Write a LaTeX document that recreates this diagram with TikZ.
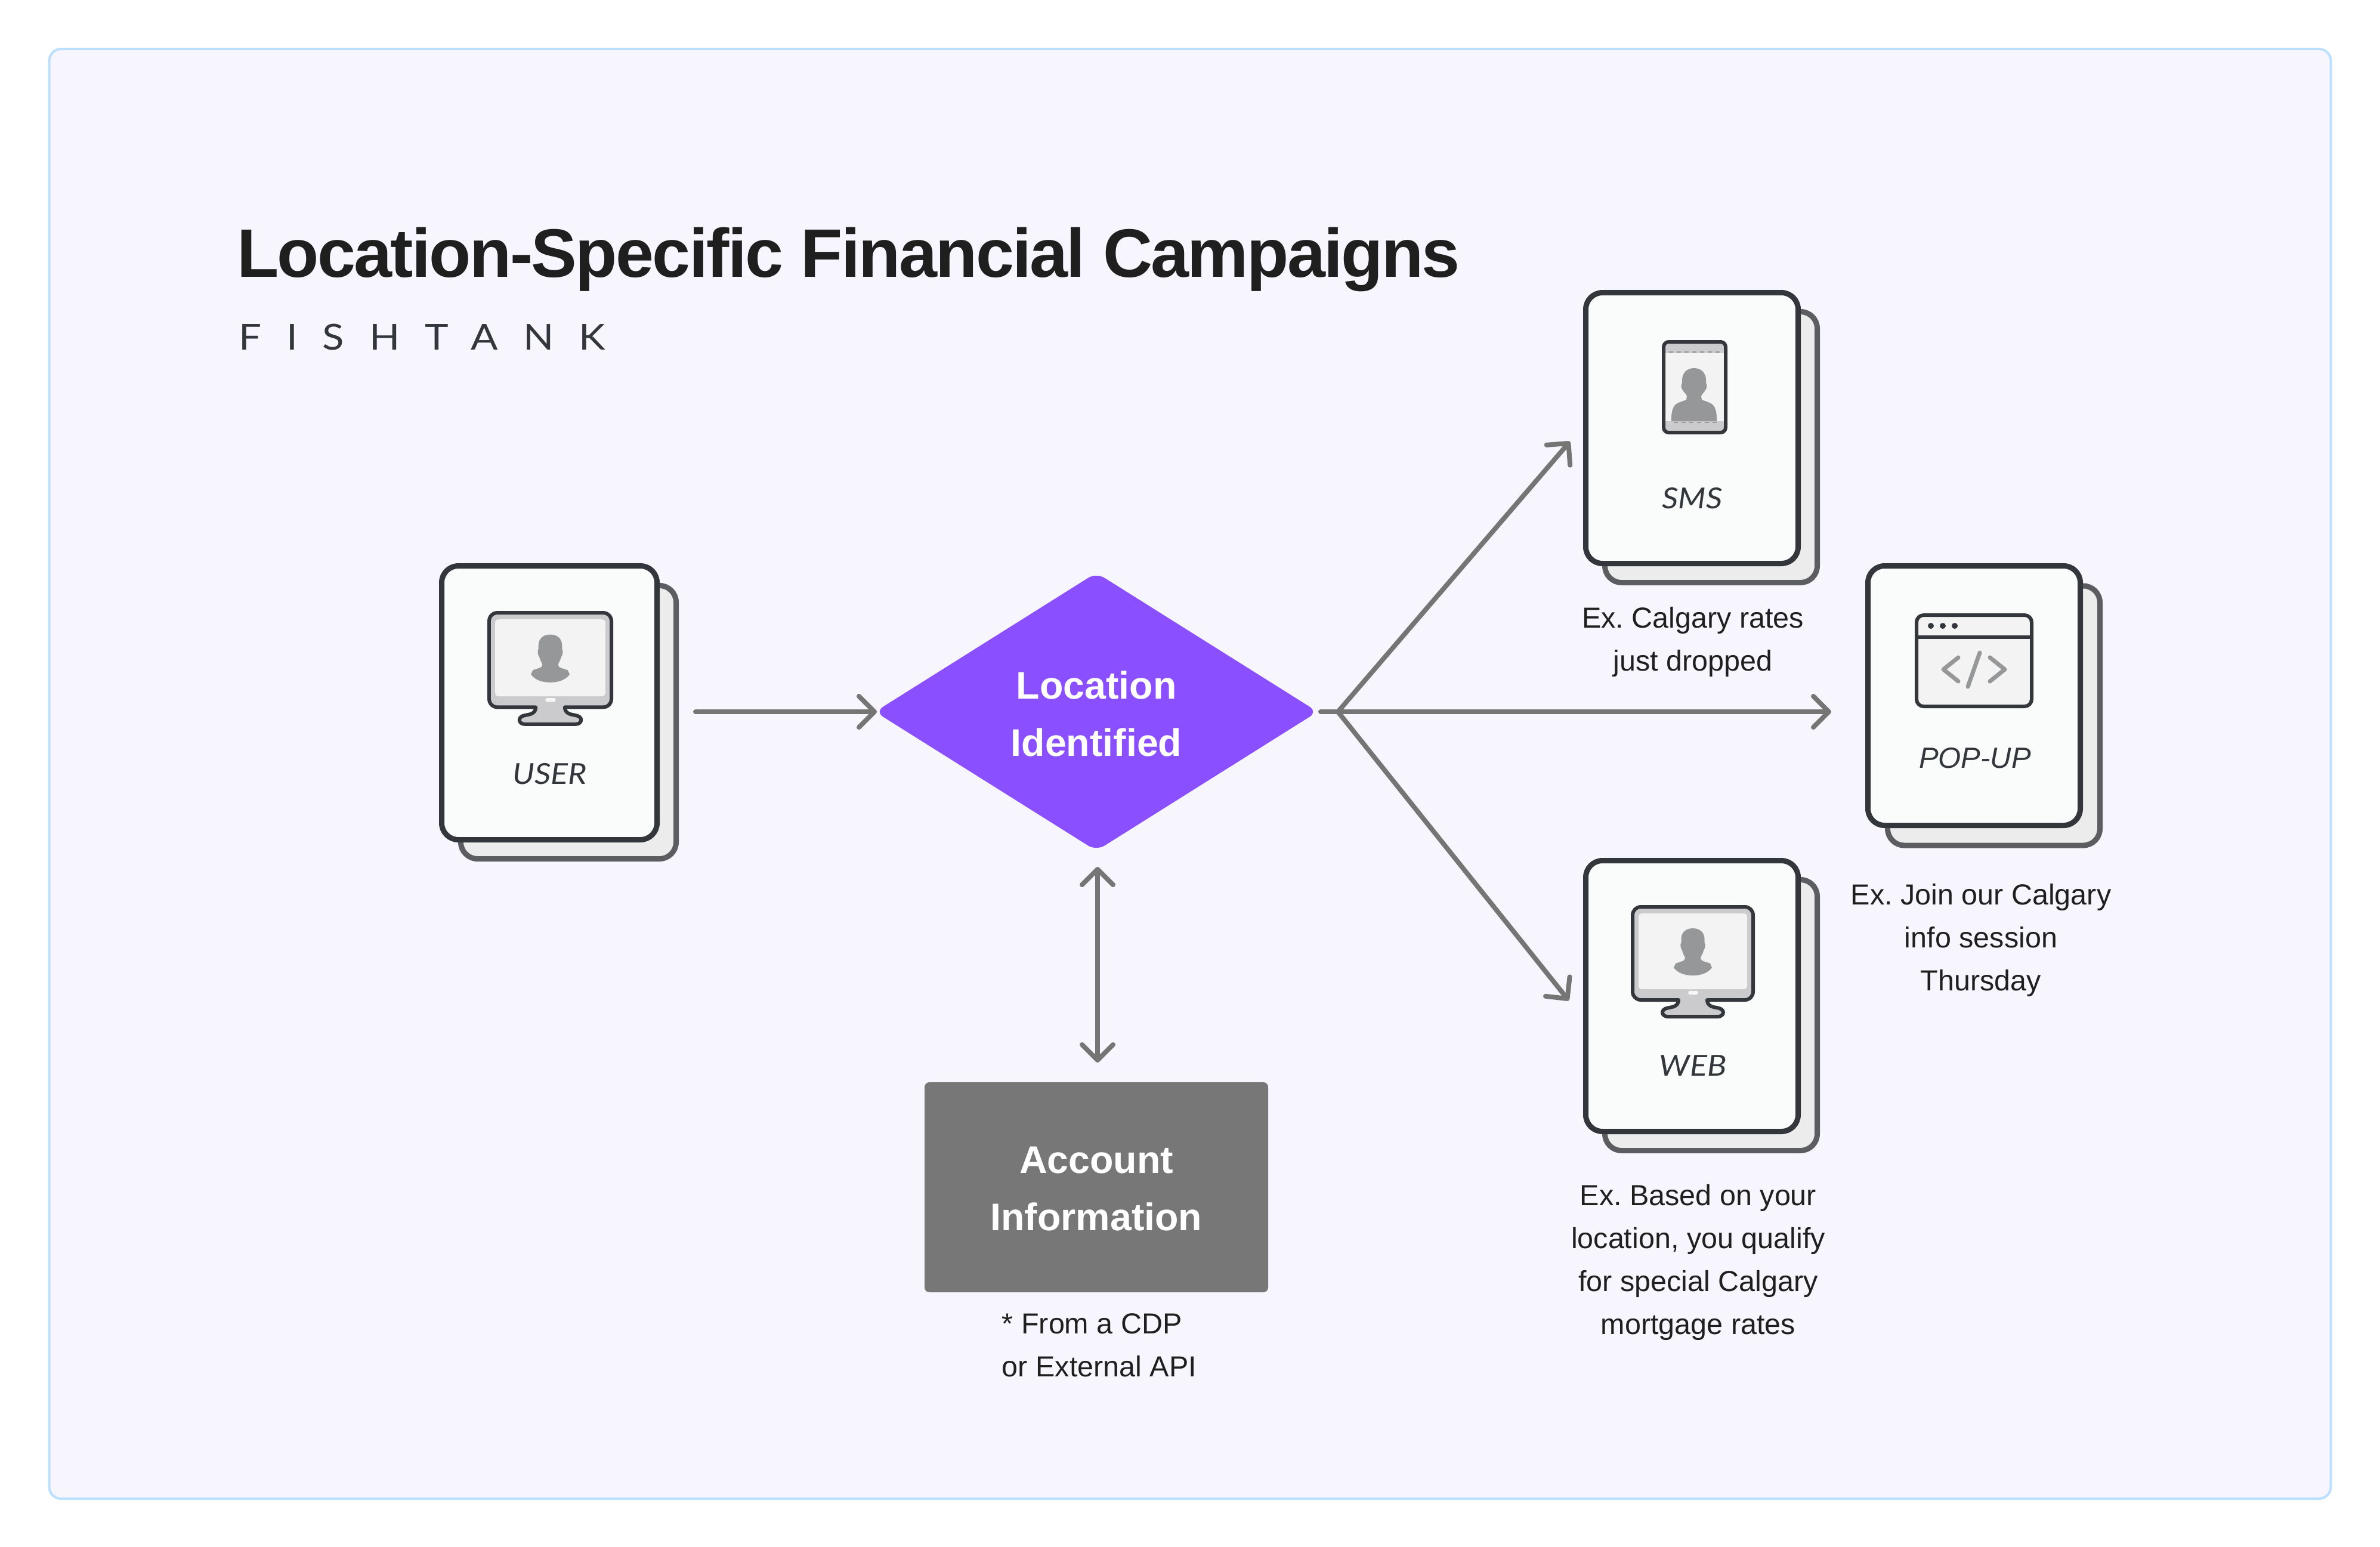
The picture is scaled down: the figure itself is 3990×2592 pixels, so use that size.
\documentclass[tikz,border=0pt]{standalone}
\usepackage{fontspec}
\setmainfont{Liberation Sans}
\newfontfamily\labelfont[FakeStretch=1.11]{Lato}
\newfontfamily\brandfont[FakeStretch=1.12,LetterSpace=70]{Lato}
\usetikzlibrary{arrows.meta,shapes.geometric}
\definecolor{panelfill}{HTML}{F7F5FE}
\definecolor{panelline}{HTML}{BBE0FF}
\definecolor{cardfill}{HTML}{FAFCFB}
\definecolor{cardline}{HTML}{33363A}
\definecolor{backfill}{HTML}{ECECEC}
\definecolor{backline}{HTML}{5C5D61}
\definecolor{iconband}{HTML}{CBCBCD}
\definecolor{iconscreen}{HTML}{F3F3F3}
\definecolor{iconglyph}{HTML}{969798}
\definecolor{linkgrey}{HTML}{757575}
\definecolor{boxgrey}{HTML}{777777}
\definecolor{violet}{HTML}{8A50FF}
\definecolor{inkdark}{HTML}{1F1F1F}
\newcommand{\dropline}[2]{\raisebox{#1}[0pt][0pt]{#2}}
\tikzset{
  cardsize/.style 2 args={minimum width=#1*0.2pt,minimum height=#2*0.2pt},
  card/.style={draw=cardline,fill=cardfill,line width=1.8pt,rounded corners=5.6pt,outer sep=0pt,inner sep=0pt},
  backcard/.style={draw=backline,fill=backfill,line width=1.8pt,rounded corners=5.6pt,outer sep=0pt,inner sep=0pt},
  link/.style={draw=linkgrey,line width=1.6pt,line cap=round},
  tip/.style={-{Straight Barb[round,length=5.2pt,width=10.4pt,line width=1.6pt]}},
  twotips/.style={{Straight Barb[round,length=5.2pt,width=10.4pt,line width=1.6pt]}-{Straight Barb[round,length=5.2pt,width=10.4pt,line width=1.6pt]}},
  cardlabel/.style={anchor=base,inner sep=0pt,text=cardline,font=\labelfont\itshape\fontsize{9.7}{12}\selectfont},
  caption/.style={inner sep=0pt,text=inkdark,align=center,font=\frenchspacing\fontsize{9.7}{14.4}\selectfont},
  whitetext/.style={text=white,align=center,inner sep=0pt,font=\bfseries\fontsize{12.9}{19.2}\selectfont},
  iconline/.style={draw=cardline,line width=1.2pt,line join=round},
  glyph/.style={draw=iconglyph,line width=1.4pt,line cap=round,line join=round},
  monitor/.pic={
    \draw[iconline,fill=iconband] (-87,3) -- (87,3) .. controls (95,3) and (101,9) .. (101,17) -- (101,145) .. controls (101,153) and (95,159) .. (87,159) -- (24,159) .. controls (24,170) and (35,171) .. (40,172) .. controls (47,173) and (51,176) .. (51,180) .. controls (51,184) and (47,187) .. (42,187) -- (-42,187) .. controls (-47,187) and (-51,184) .. (-51,180) .. controls (-51,176) and (-47,173) .. (-40,172) .. controls (-35,171) and (-24,170) .. (-24,159) -- (-87,159) .. controls (-95,159) and (-101,153) .. (-101,145) -- (-101,17) .. controls (-101,9) and (-95,3) .. (-87,3) -- cycle;
    \fill[iconscreen,rounded corners=1pt] (-91,14) rectangle (91,141);
    \fill[iconscreen!70!white,rounded corners=0.6pt] (-8,144) rectangle (9,150);
    \fill[iconglyph] (0,39) .. controls (13,39) and (19.5,47) .. (19.5,57) -- (19.5,63) .. controls (21.5,65) and (21,72) .. (18,76) .. controls (16,84) and (13,86) .. (13,89) .. controls (14,95) and (20,94) .. (29,98) -- (32,105) .. controls (24,115) and (12,118) .. (0,118) .. controls (-12,118) and (-24,115) .. (-32,105) -- (-29,98) .. controls (-20,94) and (-14,95) .. (-13,89) .. controls (-13,86) and (-16,84) .. (-18,76) .. controls (-21,72) and (-21.5,65) .. (-19.5,63) -- (-19.5,57) .. controls (-19.5,47) and (-13,39) .. (0,39) -- cycle;
  }
}
\begin{document}
\begin{tikzpicture}[x=0.2pt,y=-0.2pt]
\useasboundingbox (0,0) rectangle (3990,2592);
\node[draw=panelline,fill=panelfill,line width=0.8pt,rounded corners=4pt,outer sep=0pt,cardsize={3825}{2430}] (panel) at (1995,1297) {};

\node[anchor=base west,inner sep=0pt,text=inkdark,font=\bfseries\fontsize{23}{26}\selectfont\addfontfeature{LetterSpace=-2.3}] (title) at (396,464) {Location-Specific Financial Campaigns};
\node[anchor=base west,inner sep=0pt,text=cardline,font=\brandfont\fontsize{12}{14}\selectfont] (brand) at (399,586) {FISHTANK};

% cards
\node[backcard,cardsize={361}{458}] (userback) at (953,1210.5) {};
\node[card,cardsize={361}{459}] (user) at (921,1178) {};
\node[backcard,cardsize={356}{454}] (smsback) at (2868.5,749.5) {};
\node[card,cardsize={356}{454}] (sms) at (2836.5,717.5) {};
\node[backcard,cardsize={356}{435}] (popback) at (3342.5,1199.5) {};
\node[card,cardsize={356}{435}] (pop) at (3309.5,1166) {};
\node[backcard,cardsize={356}{454}] (webback) at (2868.5,1701.5) {};
\node[card,cardsize={356}{454}] (web) at (2836.5,1669.5) {};

% decision and data box
\node[shape=diamond,aspect=1.59,fill=violet,rounded corners=3.2pt,outer sep=0pt,inner sep=0pt,cardsize={742}{466},whitetext] (decision) at (1838,1193) {\dropline{-5.2pt}{Location}\\\dropline{-5.2pt}{Identified}};
\node[fill=boxgrey,rounded corners=1.6pt,outer sep=0pt,cardsize={576}{352},whitetext] (account) at (1838,1990) {\dropline{-4.8pt}{Account}\\\dropline{-4.8pt}{Information}};

% icons
\pic[scale=1.015] at (922.5,1024) {monitor};
\pic at (2838,1517) {monitor};

% SMS icon
\fill[iconscreen] (2792,575) rectangle (2890,723);
\fill[iconband] (2792,575) rectangle (2890,592);
\fill[iconband] (2792,706) rectangle (2890,723);
\draw[iconglyph,line width=0.5pt,dash pattern=on 1.3pt off 1.3pt] (2798,590) -- (2884,590);
\draw[iconglyph,line width=0.5pt,dash pattern=on 1.3pt off 1.3pt] (2806,708) -- (2884,708);
\fill[iconglyph] (2840,617) .. controls (2852,617) and (2860,625) .. (2860,637) -- (2860,642) .. controls (2862,644) and (2862,650) .. (2859,654) .. controls (2857,658) and (2853,660) .. (2852,664) -- (2853,670) .. controls (2862,674) and (2872,675) .. (2875,684) .. controls (2878,690) and (2878,698) .. (2878,706) -- (2802,706) .. controls (2802,698) and (2802,690) .. (2805,684) .. controls (2808,675) and (2818,674) .. (2827,670) -- (2828,664) .. controls (2827,660) and (2823,658) .. (2821,654) .. controls (2818,650) and (2818,644) .. (2820,642) -- (2820,637) .. controls (2820,625) and (2828,617) .. (2840,617) -- cycle;
\draw[iconline,rounded corners=1.7pt] (2789,573) rectangle (2893,725);

% pop-up icon
\draw[iconline,fill=iconscreen,rounded corners=2.4pt] (3213,1031) rectangle (3406,1184);
\draw[iconline] (3213,1068) -- (3406,1068);
\fill[cardline] (3237,1049) circle[radius=5] (3257,1049) circle[radius=5] (3277,1049) circle[radius=5];
\draw[glyph] (3283,1102) -- (3258,1122) -- (3283,1142);
\draw[glyph] (3319,1094) -- (3299,1151);
\draw[glyph] (3336,1102) -- (3361,1122) -- (3336,1142);

% labels
\node[cardlabel] (userlabel) at (922,1314) {USER};
\node[cardlabel] (smslabel) at (2837,852) {SMS};
\node[cardlabel] (weblabel) at (2838,1803) {WEB};
\node[cardlabel,font=\itshape\fontsize{9.8}{12}\selectfont] (poplabel) at (3311,1287) {POP-UP};

% captions
\node[caption,anchor=north] (smscap) at (2838,1016) {Ex. Calgary rates\\just dropped};
\node[caption,anchor=north] (popcap) at (3321,1480) {Ex. Join our Calgary\\info session\\Thursday};
\node[caption,anchor=north] (webcap) at (2847,1984) {Ex. Based on your\\location, you qualify\\for special Calgary\\mortgage rates};
\node[caption,anchor=north,align=left] (acccap) at (1843,2201) {* From a CDP\\or External API};

% connectors
\coordinate (hub) at (2243,1193);
\coordinate (smsin) at (2632,740);
\coordinate (webin) at (2630,1677);
\coordinate (popin) at (3070,1193);
\draw[link,tip,shorten <=12.9pt,shorten >=-0.6pt] (user.east |- decision.west) -- (decision.west);
\draw[link,shorten <=1pt] (decision.east) -- (hub);
\draw[link,tip] (hub) -- (popin);
\draw[link,tip] (hub) -- (smsin);
\draw[link,tip] (hub) -- (webin);
\draw[link,twotips,shorten <=5.4pt,shorten >=6.6pt] ([xshift=0.4pt]decision.south) -- ([xshift=0.4pt]account.north);
\end{tikzpicture}
\end{document}
